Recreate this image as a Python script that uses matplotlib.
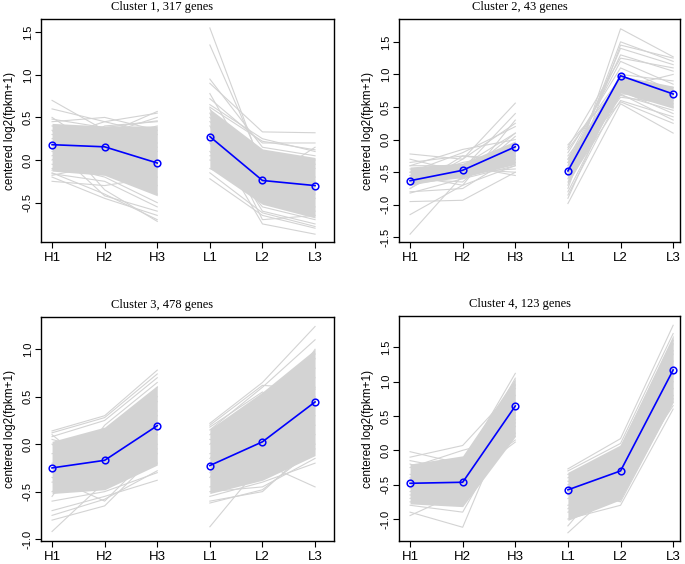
import matplotlib
matplotlib.use('Agg')
import matplotlib.pyplot as plt
import numpy as np

samples = ['H1', 'H2', 'H3', 'L1', 'L2', 'L3']
titles = ['Cluster 1, 317 genes', 'Cluster 2, 43 genes',
          'Cluster 3, 478 genes', 'Cluster 4, 123 genes']

# cluster means (blue line)
mean_c1 = [0.18, 0.155, -0.035, 0.275, -0.24, -0.30]
mean_c2 = [-0.63, -0.47, -0.11, -0.48, 0.98, 0.70]
mean_c3 = [-0.25, -0.17, 0.195, -0.225, 0.025, 0.445]
mean_c4 = [-0.48, -0.465, 0.645, -0.575, -0.30, 1.17]

# dense core of the gene profiles (lower / upper)
core_lo_c1 = [-0.13, -0.18, -0.42, -0.10, -0.52, -0.68]
core_hi_c1 = [0.43, 0.40, 0.40, 0.60, 0.13, 0.03]
core_lo_c2 = [-0.68, -0.58, -0.38, -0.68, 0.72, 0.48]
core_hi_c2 = [-0.42, -0.36, -0.02, -0.27, 0.98, 0.82]
core_lo_c3 = [-0.52, -0.48, -0.22, -0.52, -0.38, -0.12]
core_hi_c3 = [0.03, 0.18, 0.62, 0.16, 0.55, 1.00]
core_lo_c4 = [-0.78, -0.82, 0.20, -1.02, -0.72, 0.70]
core_hi_c4 = [-0.20, -0.08, 1.05, -0.32, 0.08, 1.68]

# individual gene profiles (spread / outliers)
genes_c1 = [
    [0.70, 0.35, 0.20, 1.55, -0.10, -0.35],
    [0.60, 0.45, 0.55, 1.35, -0.05, -0.20],
    [0.45, 0.50, 0.35, 0.95, 0.15, 0.05],
    [0.40, 0.30, 0.57, 0.90, 0.33, 0.32],
    [0.30, 0.20, 0.10, 0.78, -0.30, -0.40],
    [0.20, -0.10, -0.30, 0.72, 0.20, 0.20],
    [0.10, 0.05, -0.10, 0.60, -0.40, -0.60],
    [0.05, 0.25, 0.40, 0.50, -0.20, -0.10],
    [-0.05, -0.20, -0.50, 0.40, -0.60, -0.75],
    [-0.15, -0.40, -0.70, 0.30, -0.75, -0.87],
    [-0.20, -0.45, -0.65, 0.20, -0.55, -0.70],
    [-0.25, -0.30, -0.20, 0.10, -0.45, -0.55],
    [0.00, 0.40, 0.45, 0.00, -0.10, 0.00],
    [-0.18, -0.05, 0.15, -0.10, -0.35, -0.45],
    [0.35, -0.35, -0.72, -0.22, -0.65, -0.80],
    [0.50, 0.10, -0.40, 0.65, 0.25, 0.10],
    [0.25, 0.45, 0.30, 0.05, 0.10, -0.25],
    [-0.10, 0.15, 0.00, 0.25, -0.25, 0.15],
    [0.48, 0.38, 0.46, 0.62, 0.22, 0.12],
    [-0.16, -0.25, -0.55, -0.15, -0.62, -0.78],
    [0.15, -0.42, -0.60, 0.55, -0.70, -0.65],
    [-0.12, 0.30, 0.50, 0.45, 0.05, -0.05],
]
genes_c2 = [
    [-1.45, -0.55, 0.10, -0.98, 0.55, 0.10],
    [-1.15, -0.70, 0.30, -0.85, 0.70, 0.30],
    [-0.95, -0.93, -0.50, -0.70, 1.70, 1.27],
    [-0.82, -0.60, -0.40, -0.60, 1.50, 1.20],
    [-0.75, -0.30, 0.56, -0.50, 1.40, 1.15],
    [-0.70, -0.50, -0.30, -0.40, 1.30, 1.05],
    [-0.65, -0.45, 0.40, -0.30, 1.20, 0.85],
    [-0.60, -0.35, -0.20, -0.20, 1.10, 0.75],
    [-0.55, -0.40, -0.55, -0.15, 0.95, 0.60],
    [-0.50, -0.20, 0.20, -0.08, 0.85, 0.50],
    [-0.45, -0.60, -0.10, -0.25, 0.80, 1.00],
    [-0.40, -0.15, 0.00, -0.35, 0.75, 0.40],
    [-0.35, -0.25, -0.35, -0.55, 0.70, 0.70],
    [-0.30, -0.50, -0.45, -0.45, 0.65, 0.55],
    [-0.22, -0.30, 0.25, -0.65, 0.60, 0.35],
    [-0.80, -0.75, -0.25, -0.90, 0.90, 0.80],
    [-0.70, -0.55, -0.15, -0.75, 1.45, 1.25],
    [-0.60, -0.65, 0.05, -0.55, 1.00, 0.90],
    [-0.50, -0.45, -0.50, -0.35, 0.58, 0.25],
    [-0.40, -0.40, 0.10, -0.12, 1.25, 1.10],
    [-0.75, -0.25, -0.30, -0.80, 0.78, 0.65],
    [-0.55, -0.70, -0.40, -0.30, 0.68, 0.45],
]
genes_c3 = [
    [0.14, 0.30, 0.78, 0.22, 0.65, 1.24],
    [0.08, 0.25, 0.70, 0.15, 0.60, 1.10],
    [0.05, -0.10, 0.60, 0.10, 0.50, 0.90],
    [-0.92, -0.40, 0.30, -0.87, -0.20, 0.60],
    [-0.80, -0.65, -0.10, -0.60, -0.50, 0.00],
    [-0.70, -0.55, -0.38, -0.55, -0.40, -0.20],
    [-0.60, -0.50, -0.30, -0.45, -0.30, 0.10],
    [-0.50, -0.20, 0.45, -0.30, 0.30, 0.80],
    [-0.40, -0.30, 0.00, -0.20, -0.20, -0.45],
    [-0.30, 0.10, 0.50, 0.00, 0.40, 0.30],
    [-0.20, -0.25, 0.20, -0.10, 0.10, 0.70],
    [-0.10, 0.00, 0.35, 0.05, -0.10, 0.50],
    [0.00, -0.45, -0.20, -0.35, 0.20, 1.00],
    [-0.55, 0.20, 0.65, 0.18, 0.55, 0.20],
    [-0.35, -0.60, -0.05, -0.50, -0.45, -0.15],
    [0.10, -0.35, 0.10, -0.15, 0.35, 0.95],
    [-0.75, -0.58, -0.28, -0.62, -0.48, -0.05],
    [0.12, 0.28, 0.74, 0.20, 0.62, 0.58],
]
genes_c4 = [
    [-0.02, -0.20, 1.12, -0.27, 0.17, 1.82],
    [-0.10, 0.07, 0.90, -0.30, 0.10, 1.70],
    [-0.15, -0.30, 0.50, -0.35, -0.10, 1.40],
    [-0.25, 0.00, 0.20, -0.40, 0.00, 1.10],
    [-0.35, -0.50, 0.80, -0.50, -0.30, 0.90],
    [-0.45, -0.40, 0.15, -0.60, -0.50, 0.65],
    [-0.55, -0.60, 0.60, -0.70, -0.40, 1.30],
    [-0.65, -0.70, 0.35, -0.80, -0.60, 0.75],
    [-0.75, -0.80, 0.95, -0.90, -0.70, 1.55],
    [-0.80, -0.90, 0.45, -1.00, -0.80, 0.60],
    [-0.90, -1.12, 0.70, -1.10, -0.20, 1.00],
    [-0.95, -0.60, 0.25, -1.20, -0.50, 1.20],
    [-0.20, -0.45, 0.12, -0.45, -0.65, 0.80],
    [-0.60, -0.30, 1.05, -0.65, 0.05, 1.60],
    [-0.40, -0.75, 0.55, -0.85, -0.25, 1.45],
    [-0.70, -0.55, 0.40, -0.55, -0.75, 0.70],
]

yticks_c1 = [-0.5, 0.0, 0.5, 1.0, 1.5]
yticks_c2 = [-1.5, -1.0, -0.5, 0.0, 0.5, 1.0, 1.5]
yticks_c3 = [-1.0, -0.5, 0.0, 0.5, 1.0]
yticks_c4 = [-1.0, -0.5, 0.0, 0.5, 1.0, 1.5]


def draw_panel(ax, title, title_x, mean, lo, hi, genes, yticks, xlim, ylim):
    x = np.arange(1, 7)
    grey = '#d3d3d3'
    for seg in (slice(0, 3), slice(3, 6)):
        ax.fill_between(x[seg], np.array(lo)[seg], np.array(hi)[seg],
                        color=grey, lw=0)
        for g in genes:
            ax.plot(x[seg], np.array(g)[seg], color=grey, lw=0.8)
        ax.plot(x[seg], np.array(mean)[seg], color='blue', lw=1.2,
                marker='o', ms=4.8, mfc='none', mec='blue', mew=1.1)
    ax.set_xlim(*xlim)
    ax.set_ylim(*ylim)
    ax.set_xticks(x)
    ax.set_xticklabels(samples, fontsize=9.5)
    ax.set_yticks(yticks)
    ax.set_yticklabels(['%.1f' % v for v in yticks], rotation=90,
                       va='center', fontsize=8)
    ax.tick_params(direction='out', length=4, width=0.8, pad=2)
    ax.tick_params(axis='x', pad=3)
    ax.set_ylabel('centered log2(fpkm+1)', fontsize=8.5, labelpad=5)
    # R centres the title a bit left of the box here
    ax.text(title_x, 1.025, title, transform=ax.transAxes, ha='center',
            va='bottom', fontsize=9, family='Liberation Serif')
    for s in ax.spines.values():
        s.set_linewidth(1.0)


def main() -> None:
    plt.rcParams['font.family'] = ['Liberation Sans', 'DejaVu Sans']
    W, H = 685, 564
    fig = plt.figure(figsize=(W / 100, H / 100), dpi=100)

    def box(l, r, t, b):
        return [l / W, (H - b) / H, (r - l) / W, (b - t) / H]

    ax1 = fig.add_axes(box(41, 334, 19, 242))
    ax2 = fig.add_axes(box(399, 680, 19, 242))
    ax3 = fig.add_axes(box(41, 334, 317, 541))
    ax4 = fig.add_axes(box(399, 680, 316, 541))

    draw_panel(ax1, titles[0], 0.413, mean_c1, core_lo_c1, core_hi_c1,
               genes_c1, yticks_c1, (0.79, 6.36), (-0.962, 1.655))
    draw_panel(ax2, titles[1], 0.43, mean_c2, core_lo_c2, core_hi_c2,
               genes_c2, yticks_c2, (0.79, 6.13), (-1.57, 1.85))
    draw_panel(ax3, titles[2], 0.413, mean_c3, core_lo_c3, core_hi_c3,
               genes_c3, yticks_c3, (0.79, 6.36), (-1.02, 1.34))
    draw_panel(ax4, titles[3], 0.43, mean_c4, core_lo_c4, core_hi_c4,
               genes_c4, yticks_c4, (0.79, 6.13), (-1.32, 1.955))

    fig.savefig('out.png', dpi=100)


if __name__ == '__main__':
    main()
